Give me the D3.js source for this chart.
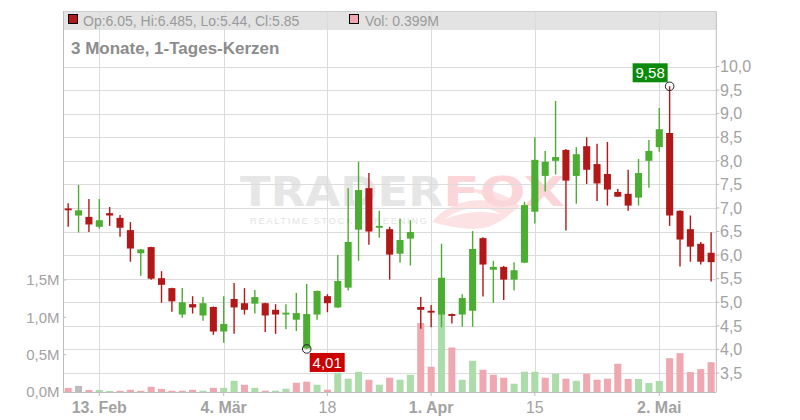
<!DOCTYPE html>
<html><head><meta charset="utf-8">
<script src="https://cdn.jsdelivr.net/npm/d3@7"></script>
<style>html,body{margin:0;padding:0;background:#fff}svg{display:block;font-family:"Liberation Sans",Arial,sans-serif}</style>
</head><body>
<svg id="c" width="800" height="420"></svg>
<script>
const dates = ["2024-02-08","2024-02-09","2024-02-12","2024-02-13","2024-02-14","2024-02-15","2024-02-16","2024-02-20","2024-02-21","2024-02-22","2024-02-23","2024-02-27","2024-02-28","2024-02-29","2024-03-01","2024-03-04","2024-03-05","2024-03-06","2024-03-07","2024-03-08","2024-03-11","2024-03-12","2024-03-13","2024-03-14","2024-03-15","2024-03-18","2024-03-19","2024-03-20","2024-03-21","2024-03-22","2024-03-25","2024-03-26","2024-03-27","2024-03-28","2024-03-29","2024-04-01","2024-04-02","2024-04-03","2024-04-04","2024-04-05","2024-04-08","2024-04-09","2024-04-10","2024-04-11","2024-04-12","2024-04-15","2024-04-16","2024-04-17","2024-04-18","2024-04-19","2024-04-22","2024-04-23","2024-04-24","2024-04-25","2024-04-26","2024-04-29","2024-04-30","2024-05-02","2024-05-03","2024-05-06","2024-05-07","2024-05-08","2024-05-09"];
const open  = [6.99,6.84,6.81,6.60,6.89,6.79,6.53,6.04,6.17,5.51,5.30,4.74,4.96,4.72,4.90,4.38,5.07,4.98,4.97,4.98,4.84,4.74,4.63,4.02,4.74,5.13,4.89,5.31,6.54,7.42,6.58,6.55,6.03,6.35,4.90,4.82,4.74,4.75,4.74,4.82,6.36,5.69,5.75,5.48,5.84,6.92,7.68,8.00,8.23,7.68,8.31,7.93,7.72,7.34,7.30,7.22,8.00,8.29,8.59,6.94,6.55,6.24,6.05];
const high  = [7.10,7.49,7.19,7.19,7.02,6.85,6.70,6.13,6.18,5.66,5.31,5.30,5.13,5.11,4.91,5.13,5.41,5.30,5.26,4.99,4.96,4.96,5.20,5.39,5.25,5.17,6.00,7.42,7.98,7.74,6.94,6.60,6.77,6.74,5.11,4.94,6.24,4.76,5.17,6.51,6.38,5.88,5.77,5.85,7.13,8.50,8.21,9.27,8.25,8.29,8.50,8.36,8.40,7.40,7.81,8.04,8.44,9.12,9.58,6.95,6.84,6.28,6.485];
const low   = [6.60,6.48,6.49,6.56,6.62,6.39,5.86,5.56,5.48,4.99,4.80,4.67,4.76,4.61,4.31,4.14,4.33,4.74,4.76,4.37,4.33,4.43,4.39,4.01,4.63,4.79,4.88,5.25,5.88,6.22,6.37,5.48,5.84,5.78,4.44,4.47,4.47,4.55,4.48,4.48,5.12,4.99,5.05,5.25,5.83,6.67,7.35,7.71,6.52,7.09,7.51,7.15,7.05,7.23,6.94,7.05,7.43,8.19,6.62,5.76,5.86,5.80,5.44];
const close = [6.95,6.95,6.65,6.74,6.84,6.58,6.14,6.12,5.50,5.37,5.02,5.00,4.89,4.98,4.38,4.54,4.89,4.84,5.11,4.72,4.74,4.78,4.77,4.75,5.24,4.98,5.45,6.28,7.38,6.50,6.62,6.01,6.32,6.49,4.84,4.78,5.52,4.71,5.09,6.13,5.80,5.75,5.48,5.68,7.06,8.02,7.98,8.08,7.58,8.14,7.81,7.52,7.39,7.24,7.05,7.74,8.21,8.67,6.84,6.33,6.18,5.86,5.85];
const volume = [0.055,0.082,0.028,0.028,0.015,0.016,0.030,0.016,0.070,0.042,0.017,0.017,0.030,0.017,0.056,0.056,0.150,0.096,0.056,0.018,0.018,0.044,0.124,0.138,0.098,0.031,0.258,0.178,0.271,0.164,0.098,0.191,0.164,0.231,0.924,0.338,1.300,0.596,0.164,0.418,0.298,0.231,0.191,0.111,0.271,0.271,0.191,0.244,0.178,0.151,0.244,0.164,0.178,0.378,0.175,0.175,0.120,0.147,0.453,0.520,0.267,0.307,0.399];
const prevClose = 7.05;
const priceTicks = [3.5,4.0,4.5,5.0,5.5,6.0,6.5,7.0,7.5,8.0,8.5,9.0,9.5,10.0];
const volTicks = [0,0.5,1.0,1.5];
const tickDates = ["2024-02-13","2024-03-04","2024-03-18","2024-04-01","2024-04-15","2024-05-02"];
const tickLabels = ["13. Feb","4. Mär","18","1. Apr","15","2. Mai"];
const titleText = "3 Monate, 1-Tages-Kerzen";

const C = {red:"#b21818", green:"#4bae33", vRed:"#efa7b0", vGreen:"#acdcaa", vGray:"#bcbcbc",
  grid:"#dcdcdc", axis:"#bdbdbd", text:"#a3a3a3"};
const L = 63, R = 716.3, T = 11.5, B = 392;
const svg = d3.select("#c");

const x = d3.scaleBand().domain(dates).range([L, R]).padding(0);
const cx = d => x(d) + x.bandwidth()/2;
const bw = x.bandwidth()*0.68;
const y = d3.scaleLinear().domain([3.5, 10]).range([373.0, 66.5]);
const yv = d3.scaleLinear().domain([0, 1.5]).range([B, 280]);

const data = dates.map((d,i)=>({d, o:open[i], h:high[i], l:low[i], c:close[i], v:volume[i],
  pc: i===0 ? prevClose : close[i-1]}));

// header band
svg.append("rect").attr("x",L).attr("y",T).attr("width",R-L).attr("height",18.5).attr("fill","#e3e3e3");
svg.append("line").attr("x1",L).attr("x2",R).attr("y1",T).attr("y2",T).attr("stroke","#cfcfcf");

// watermark
const wm = svg.append("g");
wm.append("path").attr("fill","#fde2e4")
  .attr("d","M432,222 C450,200 478,196 505,204 C492,198 478,194 470,190 C488,188 506,194 520,206 C510,214 500,224 484,228 C470,230 452,228 432,222 Z M445,219 C462,212 480,210 500,214 C486,205 462,206 445,219 Z");
wm.append("text").attr("x",240).attr("y",205.5).attr("font-family","DejaVu Sans").attr("font-weight","bold")
  .attr("font-size",40).attr("textLength",203).attr("lengthAdjust","spacingAndGlyphs").attr("fill","#e6e6e6").text("TRADER");
wm.append("text").attr("x",443).attr("y",205.5).attr("font-family","DejaVu Sans").attr("font-weight","bold")
  .attr("font-size",40).attr("textLength",122).attr("lengthAdjust","spacingAndGlyphs").attr("fill","#fbd6d9").text("FOX");
wm.append("text").attr("x",250).attr("y",224).attr("font-size",9.5).attr("textLength",177)
  .attr("lengthAdjust","spacing").attr("fill","#e3e3e3").text("REALTIME STOCK SCREENING");

// gridlines
svg.append("g").selectAll("line").data(priceTicks).join("line")
  .attr("x1",L).attr("x2",R).attr("y1",d=>Math.round(y(d))+0.5).attr("y2",d=>Math.round(y(d))+0.5)
  .attr("stroke",C.grid);
svg.append("g").selectAll("line").data(tickDates).join("line")
  .attr("x1",d=>Math.round(cx(d))+0.5).attr("x2",d=>Math.round(cx(d))+0.5).attr("y1",T).attr("y2",B)
  .attr("stroke",C.grid);

// volume bars
svg.append("g").selectAll("rect").data(data).join("rect")
  .attr("x",d=>cx(d.d)-bw/2).attr("width",bw)
  .attr("y",d=>yv(d.v)).attr("height",d=>B-yv(d.v))
  .attr("fill",d=> Math.abs(d.c-d.pc)<1e-9 ? C.vGray : (d.c>d.pc ? C.vGreen : C.vRed));

// candles
const cg = svg.append("g").selectAll("g").data(data).join("g");
cg.append("line").attr("x1",d=>cx(d.d)).attr("x2",d=>cx(d.d)).attr("y1",d=>y(d.h)).attr("y2",d=>y(d.l))
  .attr("stroke",d=>d.c>=d.o?C.green:C.red).attr("stroke-width",1.4);
cg.append("rect").attr("x",d=>cx(d.d)-bw/2).attr("width",bw)
  .attr("y",d=>y(Math.max(d.o,d.c))).attr("height",d=>Math.max(1.6,Math.abs(y(d.o)-y(d.c))))
  .attr("fill",d=>d.c>=d.o?C.green:C.red);

// axes lines
svg.append("line").attr("x1",L+0.5).attr("x2",L+0.5).attr("y1",T).attr("y2",B).attr("stroke",C.axis);
svg.append("line").attr("x1",R).attr("x2",R).attr("y1",T).attr("y2",B).attr("stroke",C.axis);
svg.append("line").attr("x1",L).attr("x2",R).attr("y1",B+0.5).attr("y2",B+0.5).attr("stroke",C.axis);

// right axis (price)
const fmt = v => d3.format(".1f")(v).replace(".",",");
const ra = svg.append("g").selectAll("g").data(priceTicks).join("g");
ra.append("line").attr("x1",R).attr("x2",R+3).attr("y1",d=>y(d)).attr("y2",d=>y(d)).attr("stroke",C.axis);
ra.append("text").attr("x",720).attr("y",d=>y(d)).attr("dy","0.36em").attr("font-size",16).attr("fill",C.text).text(fmt);

// left axis (volume)
const la = svg.append("g").selectAll("g").data(volTicks).join("g");
la.append("line").attr("x1",L).attr("x2",L+3).attr("y1",d=>yv(d)).attr("y2",d=>yv(d)).attr("stroke",C.axis);
la.append("text").attr("x",59.5).attr("y",d=>yv(d)).attr("dy","0.36em").attr("text-anchor","end")
  .attr("font-size",15).attr("fill",C.text).text(d=>fmt(d)+"M");

// bottom axis
const ba = svg.append("g").selectAll("g").data(tickDates).join("g");
ba.append("line").attr("x1",d=>cx(d)).attr("x2",d=>cx(d)).attr("y1",B).attr("y2",B+4).attr("stroke",C.axis);
ba.append("text").attr("x",d=>cx(d)).attr("y",413).attr("text-anchor","middle").attr("font-size",16)
  .attr("font-weight",(d,i)=>tickLabels[i].includes(".")?"bold":"normal").attr("fill",C.text)
  .text((d,i)=>tickLabels[i]);

// legend
const last = data[data.length-1];
svg.append("rect").attr("x",68.5).attr("y",14.5).attr("width",9).attr("height",9).attr("fill",C.red).attr("stroke","#000");
svg.append("text").attr("x",83).attr("y",25.5).attr("font-size",14).attr("fill","#9a9a9a")
  .text(`Op:${last.o}, Hi:${last.h}, Lo:${last.l}, Cl:${last.c}`);
svg.append("rect").attr("x",349.5).attr("y",14.5).attr("width",9).attr("height",9).attr("fill",C.vRed).attr("stroke","#000");
svg.append("text").attr("x",365).attr("y",25.5).attr("font-size",14).attr("fill","#9a9a9a").text(`Vol: ${last.v}M`);

// title
svg.append("text").attr("x",71).attr("y",54).attr("font-size",17).attr("font-weight","bold").attr("fill","#8c8c8c").text(titleText);

// annotations: max high / min low
function fmt2(v){return d3.format(".2f")(v).replace(".",",");}
const hi = data.reduce((a,b)=>b.h>a.h?b:a), lo = data.reduce((a,b)=>b.l<a.l?b:a);
const hx = cx(hi.d), hy = y(hi.h), lx = cx(lo.d), ly = y(lo.l);
svg.append("rect").attr("x",hx-37).attr("y",hy-23).attr("width",35).attr("height",19).attr("fill","#0b8a0b");
svg.append("text").attr("x",hx-19.5).attr("y",hy-8).attr("text-anchor","middle").attr("font-size",15).attr("fill","#fff").text(fmt2(hi.h));
svg.append("circle").attr("cx",hx).attr("cy",hy).attr("r",4.3).attr("fill","none").attr("stroke","#222");
svg.append("rect").attr("x",lx+3).attr("y",ly+4).attr("width",35).attr("height",19).attr("fill","#cc0000");
svg.append("text").attr("x",lx+20.5).attr("y",ly+19).attr("text-anchor","middle").attr("font-size",15).attr("fill","#fff").text(fmt2(lo.l));
svg.append("circle").attr("cx",lx).attr("cy",ly).attr("r",4.3).attr("fill","none").attr("stroke","#222");
</script>
</body></html>
